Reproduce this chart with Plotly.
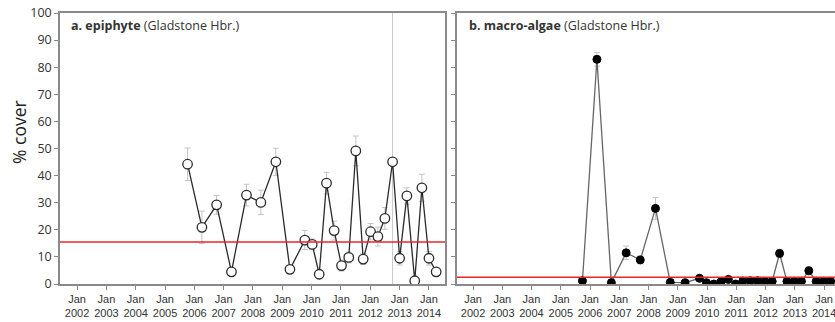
import plotly.graph_objects as go

# ---- data ----
epi_dates = ["2005-10-08", "2006-04-05", "2006-10-05", "2007-04-08", "2007-10-12",
             "2008-04-08", "2008-10-12", "2009-04-05", "2009-10-08", "2010-01-08",
             "2010-04-05", "2010-07-05", "2010-10-08", "2011-01-08", "2011-04-08",
             "2011-07-05", "2011-10-05", "2012-01-05", "2012-04-05", "2012-07-01",
             "2012-10-05", "2013-01-01", "2013-04-01", "2013-07-08", "2013-10-05",
             "2014-01-01", "2014-04-01"]
epi_vals = [44.2, 20.9, 29.2, 4.5, 32.8, 30.1, 45.1, 5.4, 16.2, 14.6,
            3.6, 37.2, 19.7, 6.8, 9.8, 49.1, 9.2, 19.3, 17.5, 24.2,
            45.1, 9.5, 32.5, 1.2, 35.5, 9.5, 4.5]
epi_err = [6, 6, 3.5, 1, 4, 4.5, 5, 1, 3.5, 2,
           1, 4, 3.5, 2, 2, 5.5, 2, 3, 3.5, 4,
           1, 2.5, 3, 0.5, 5, 2.5, 1]

mac_dates = ["2005-09-28", "2006-03-28", "2006-09-24", "2007-03-28", "2007-09-20",
             "2008-03-28", "2008-09-28", "2009-04-01", "2009-09-28", "2009-12-24",
             "2010-03-28", "2010-06-24", "2010-09-24", "2010-12-24", "2011-03-24",
             "2011-06-24", "2011-09-24", "2011-12-24", "2012-03-24", "2012-06-24",
             "2012-09-24", "2012-12-24", "2013-03-24", "2013-06-24", "2013-09-24",
             "2013-12-24", "2014-03-24"]
mac_vals = [1.2, 82.9, 0.5, 11.5, 8.9, 27.9, 0.6, 0.5, 2.1, 0.5,
            0.0, 0.9, 1.7, 0.0, 1.1, 1.2, 1.2, 1.0, 1.0, 11.3,
            1.0, 1.0, 1.0, 4.9, 1.0, 1.0, 1.0]
mac_err = [0.5, 2.5, 0.3, 2.5, 1.5, 4, 0.3, 0.3, 0.8, 0.3,
           0.2, 0.4, 0.6, 0.2, 0.4, 0.4, 0.4, 0.4, 0.4, 1.5,
           0.4, 0.4, 0.4, 1.5, 0.4, 0.4, 0.4]

epi_ref = 15.5
mac_ref = 2.5
epi_vline = "2012-10-05"

years = list(range(2002, 2015))
tick_vals = [f"{y}-01-01" for y in years]
tick_text = [f"Jan<br>{y}" for y in years]
y_ticks = list(range(0, 101, 10))

W, H = 835, 322

fig = go.Figure()

fig.add_trace(go.Scatter(
    x=epi_dates, y=epi_vals, mode="lines+markers", xaxis="x", yaxis="y",
    line=dict(color="#2a2a2a", width=1.3),
    marker=dict(symbol="circle", size=9.5, color="white",
                line=dict(color="#2a2a2a", width=1.3)),
    error_y=dict(type="data", array=epi_err, visible=True, color="#c4c4c4",
                 thickness=1, width=3),
    showlegend=False, hoverinfo="skip"))

fig.add_trace(go.Scatter(
    x=mac_dates, y=mac_vals, mode="lines+markers", xaxis="x2", yaxis="y2",
    line=dict(color="#666666", width=1.3),
    marker=dict(symbol="circle", size=8, color="black",
                line=dict(color="black", width=1)),
    error_y=dict(type="data", array=mac_err, visible=True, color="#c4c4c4",
                 thickness=1, width=3),
    showlegend=False, hoverinfo="skip"))

tickfont_x = dict(family="Liberation Sans Narrow, Arial Narrow, Liberation Sans, sans-serif",
                  size=11, color="#333")
tickfont_y = dict(family="Open Sans, sans-serif", size=12.5, color="#333")

ydom = [1 - 284 / H, 1 - 13 / H]

xcommon = dict(type="date", tickmode="array", tickvals=tick_vals, ticktext=tick_text,
               ticks="outside", ticklen=4, tickcolor="#888", tickwidth=1,
               showline=True, linecolor="#8a8a8a", linewidth=1.5, mirror=True,
               showgrid=False, zeroline=False, tickfont=tickfont_x, tickangle=0,
               automargin=False, ticklabeloverflow="allow")

fig.update_layout(
    template="none",
    width=W, height=H, margin=dict(l=0, r=0, t=0, b=0, pad=0),
    paper_bgcolor="white", plot_bgcolor="white",
    xaxis=dict(domain=[60 / W, 445 / W], range=["2001-06-02", "2014-07-20"],
               anchor="y", **xcommon),
    xaxis2=dict(domain=[457 / W, 1.0], range=["2001-06-15", "2014-05-17"],
                anchor="y2", **xcommon),
    yaxis=dict(domain=ydom, range=[0, 100], tickvals=y_ticks, ticks="outside",
               ticklen=4, tickcolor="#888", showline=True, linecolor="#8a8a8a",
               linewidth=1.5, mirror=True, showgrid=False, zeroline=False,
               tickfont=tickfont_y, anchor="x", automargin=False),
    yaxis2=dict(domain=ydom, range=[0, 100], tickvals=y_ticks, ticks="outside",
                ticklen=4, tickcolor="#888", showticklabels=False, showline=True,
                linecolor="#8a8a8a", linewidth=1.5, mirror=False, showgrid=False,
                zeroline=False, anchor="x2", automargin=False),
)

shapes = [
    dict(type="line", xref="x domain", yref="y", x0=0, x1=1, y0=epi_ref, y1=epi_ref,
         line=dict(color="#e8262a", width=1.3)),
    dict(type="line", xref="x2 domain", yref="y2", x0=0, x1=1, y0=mac_ref, y1=mac_ref,
         line=dict(color="#e8262a", width=1.3)),
    dict(type="line", xref="x", yref="y domain", x0=epi_vline, x1=epi_vline, y0=0, y1=1,
         line=dict(color="#c8c8c8", width=1), layer="below"),
]
fig.update_layout(shapes=shapes)

title_font = dict(family="Open Sans, sans-serif", size=12.5, color="#333")
fig.add_annotation(xref="x domain", yref="y domain", x=0.024, y=0.955,
                   xanchor="left", yanchor="middle", showarrow=False,
                   text="<b>a. epiphyte</b> (Gladstone Hbr.)", font=title_font)
fig.add_annotation(xref="x2 domain", yref="y2 domain", x=0.027, y=0.955,
                   xanchor="left", yanchor="middle", showarrow=False,
                   text="<b>b. macro-algae</b> (Gladstone Hbr.)", font=title_font)
fig.add_annotation(xref="paper", yref="paper", x=19 / W, y=1 - 132 / H,
                   xanchor="center", yanchor="middle", showarrow=False,
                   textangle=-90, text="% cover",
                   font=dict(family="Open Sans, sans-serif", size=17.5, color="#222"))

fig.write_html("out.html", config={"displayModeBar": False},
               post_script="document.body.style.margin='0';document.body.style.overflow='hidden';")
